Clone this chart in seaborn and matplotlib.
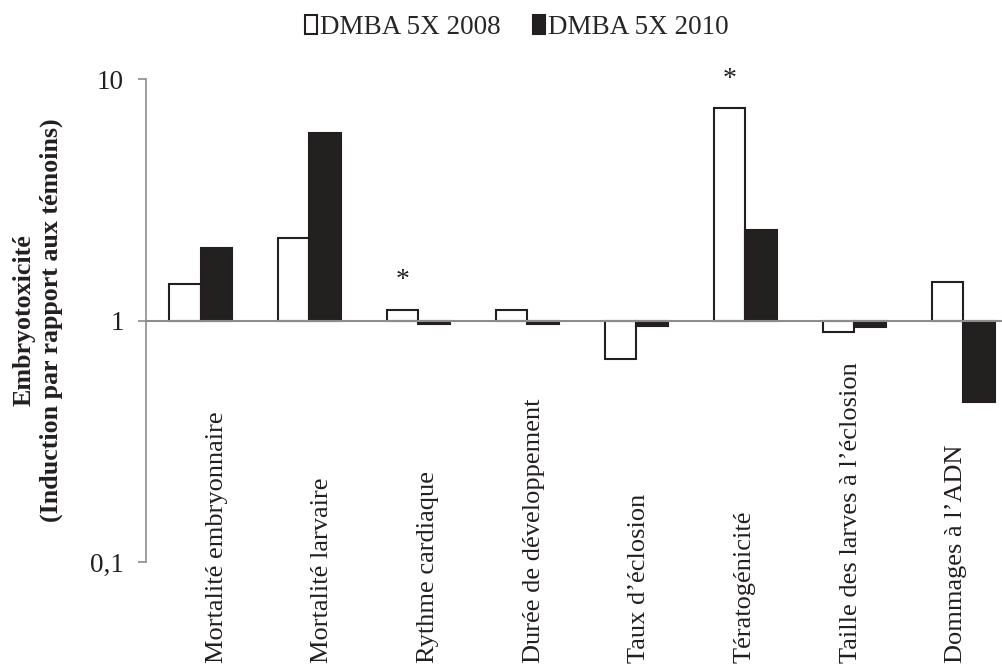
import numpy as np
import pandas as pd
import matplotlib
matplotlib.use("Agg")
import matplotlib.pyplot as plt
import matplotlib.transforms as mtransforms
import seaborn as sns

# Embryotoxicity endpoints (fold induction relative to controls)
categories = [
    "Mortalité embryonnaire",
    "Mortalité larvaire",
    "Rythme cardiaque",
    "Durée de développement",
    "Taux d’éclosion",
    "Tératogénicité",
    "Taille des larves à l’éclosion",
    "Dommages à l’ADN",
]
series = ["DMBA 5X 2008", "DMBA 5X 2010"]
values_2008 = [1.41, 2.20, 1.11, 1.11, 0.69, 7.55, 0.90, 1.45]
values_2010 = [2.00, 5.97, 0.97, 0.97, 0.95, 2.38, 0.94, 0.46]
significant_2008 = [False, False, True, False, False, True, False, False]
tick_values = [0.1, 1, 10]
tick_labels = ["0,1", "1", "10"]

sns.set_theme(style="white")
plt.rcParams["font.family"] = ["Liberation Serif", "DejaVu Serif"]

df = pd.DataFrame({
    "categorie": categories * 2,
    "serie": [series[0]] * len(categories) + [series[1]] * len(categories),
    "valeur": values_2008 + values_2010,
})
# bars grow from 1 on a logarithmic axis: plot the decade exponent
df["log_valeur"] = np.log10(df["valeur"])

fig = plt.figure(figsize=(10.03, 6.64), dpi=100)
ax = fig.add_axes([0.1456, 0.1536, 0.869, 0.7274])

sns.barplot(
    data=df, x="categorie", y="log_valeur", hue="serie",
    order=categories, hue_order=series,
    palette={series[0]: "white", series[1]: "#231f20"},
    edgecolor="#231f20", linewidth=1.5, width=0.58, ax=ax,
)

ax.set_xlim(-0.5, len(categories) - 0.5)
ax.set_ylim(np.log10(tick_values[0]), np.log10(tick_values[-1]))
ax.set_yticks(np.log10(tick_values))
ax.set_yticklabels(tick_labels, fontsize=19.5)
ax.tick_params(axis="y", which="major", left=True, length=6, width=1.2,
               color="#8c8c8c", pad=10, labelcolor="#231f20")
ax.set_xticks([])
ax.set_xlabel("")

for side in ("top", "right", "bottom"):
    ax.spines[side].set_visible(False)
ax.spines["left"].set_color("#8c8c8c")
ax.spines["left"].set_linewidth(1.2)

# baseline at 1 (no change vs. controls)
ax.axhline(0, color="#8c8c8c", lw=1.5, zorder=3, clip_on=False)

# category names, rotated, anchored near the bottom of the figure
trans = mtransforms.blended_transform_factory(ax.transData, fig.transFigure)
for i, name in enumerate(categories):
    ax.text(0.147 + 0.97 * i, 0.002, name, rotation=90, ha="center",
            va="bottom", fontsize=19, color="#231f20", transform=trans)

# significance markers above the 2008 bars
bar_w = 0.58 / 2
for i, (v, sig) in enumerate(zip(values_2008, significant_2008)):
    if sig:
        ax.annotate("*", xy=(i - bar_w / 2, np.log10(v)), xytext=(0, 21),
                    textcoords="offset points", ha="center", va="center",
                    fontsize=20, color="#231f20")

ax.set_ylabel("Embryotoxicité\n(Induction par rapport aux témoins)",
              fontsize=18.7, fontweight="bold", linespacing=1.2, color="#231f20")
ax.yaxis.set_label_coords(-0.124, 0.5)
ax.yaxis.label.set_verticalalignment("center")

handles, labels = ax.get_legend_handles_labels()
ax.legend_.remove()
fig.legend(handles, labels, loc="center", bbox_to_anchor=(0.515, 0.958),
           ncol=2, frameon=False, fontsize=19.5, handlelength=0.45,
           handleheight=0.7, handletextpad=0.1, columnspacing=1.2)

fig.savefig("out.png", dpi=100)
